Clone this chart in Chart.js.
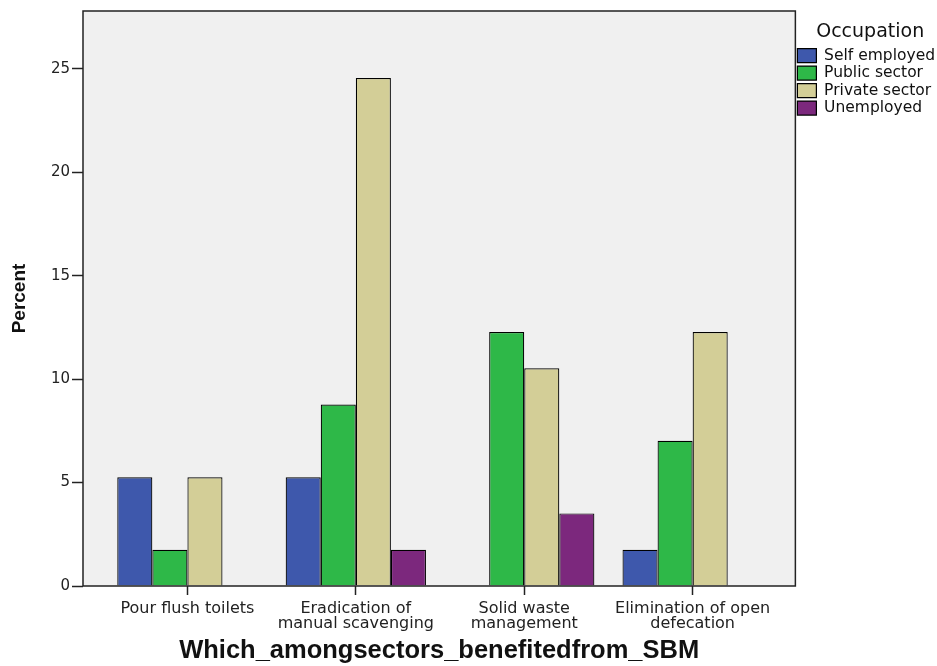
<!DOCTYPE html>
<html>
<head>
<meta charset="utf-8">
<script src="https://cdn.jsdelivr.net/npm/chart.js@4.4.1/dist/chart.umd.min.js"></script>
<style>
  html, body { margin: 0; padding: 0; background: #fff; }
  #wrap { width: 937px; height: 666px; }
</style>
</head>
<body>
<div id="wrap"><canvas id="chart"></canvas></div>
<script>
// categories along the x axis (one entry per line of the label)
const categories = [
    ['Pour flush toilets'],
    ['Eradication of', 'manual scavenging'],
    ['Solid waste', 'management'],
    ['Elimination of open', 'defecation']
];
const groups = ['Self employed', 'Public sector', 'Private sector', 'Unemployed'];
const colors = ['#3e58ac', '#2eb848', '#d3ce97', '#7c287d'];

// percent values per occupation, in category order
const selfEmployed = [5.26, 5.26, 0, 1.75];
const publicSector = [1.75, 8.77, 12.28, 7.02];
const privateSector = [5.26, 24.56, 10.53, 12.28];
const unemployed = [0, 1.75, 3.51, 0];

const yTicks = [0, 5, 10, 15, 20, 25];
const yMax = 27.8;

const series = [selfEmployed, publicSector, privateSector, unemployed];

// plot background + frame like the SPSS output
const framePlugin = {
    id: 'frame',
    beforeDraw(chart) {
        const { ctx, chartArea: a } = chart;
        ctx.save();
        ctx.fillStyle = '#f0f0f0';
        ctx.fillRect(a.left, a.top, a.right - a.left, a.bottom - a.top);
        ctx.restore();
    },
    afterDraw(chart) {
        const { ctx, chartArea: a } = chart;
        ctx.save();
        ctx.strokeStyle = '#222';
        ctx.lineWidth = 1.5;
        ctx.strokeRect(a.left, a.top, a.right - a.left, a.bottom - a.top);
        ctx.restore();
    }
};

const ctx = document.getElementById('chart').getContext('2d');
new Chart(ctx, {
    type: 'bar',
    data: {
        datasets: series.map((vals, i) => ({
            label: groups[i],
            data: vals.map((v, j) => ({ x: j, y: v })),
            backgroundColor: colors[i],
            borderColor: '#000',
            borderWidth: 1.2
        }))
    },
    options: {
        responsive: true,
        maintainAspectRatio: false,
        animation: false,
        layout: { padding: { top: 10, left: 0, right: -8, bottom: 0 } },
        categoryPercentage: 0.833,
        barPercentage: 1,
        plugins: {
            tooltip: { enabled: false },
            legend: {
                position: 'right',
                align: 'start',
                title: {
                    display: true,
                    text: 'Occupation',
                    color: '#111',
                    font: { family: 'DejaVu Sans', size: 19 },
                    padding: { top: 13, bottom: 0 }
                },
                labels: {
                    boxWidth: 19,
                    boxHeight: 14,
                    padding: 2,
                    color: '#111',
                    font: { family: 'DejaVu Sans', size: 15.5 }
                }
            }
        },
        scales: {
            x: {
                type: 'linear',
                min: -0.62,
                max: 3.61,
                offset: false,
                afterFit: s => { s.height = 80; },
                afterBuildTicks: s => { s.ticks = categories.map((c, i) => ({ value: i })); },
                border: { display: false },
                grid: { offset: false, drawOnChartArea: false, drawTicks: true, tickLength: 9, tickColor: '#222', tickWidth: 1.5 },
                ticks: {
                    color: '#222',
                    padding: 6,
                    maxRotation: 0,
                    autoSkip: false,
                    font: { family: 'DejaVu Sans', size: 16, lineHeight: 0.95 },
                    callback: v => categories[v]
                },
                title: {
                    display: true,
                    text: 'Which_amongsectors_benefitedfrom_SBM',
                    color: '#111',
                    font: { family: 'Liberation Sans', size: 25.5, weight: 'bold' },
                    padding: { top: 0, bottom: 0 }
                }
            },
            y: {
                min: 0,
                max: yMax,
                afterFit: s => { s.width = 83; },
                afterBuildTicks: s => { s.ticks = yTicks.map(v => ({ value: v })); },
                border: { display: false },
                grid: { drawOnChartArea: false, drawTicks: true, tickLength: 11, tickColor: '#222', tickWidth: 1.5 },
                ticks: {
                    color: '#222',
                    padding: 2,
                    font: { family: 'DejaVu Sans', size: 15 }
                },
                title: {
                    display: true,
                    text: 'Percent',
                    color: '#111',
                    font: { family: 'Liberation Sans', size: 19, weight: 'bold' },
                    padding: { top: 8, bottom: 0 }
                }
            }
        }
    },
    plugins: [framePlugin]
});
</script>
</body>
</html>
